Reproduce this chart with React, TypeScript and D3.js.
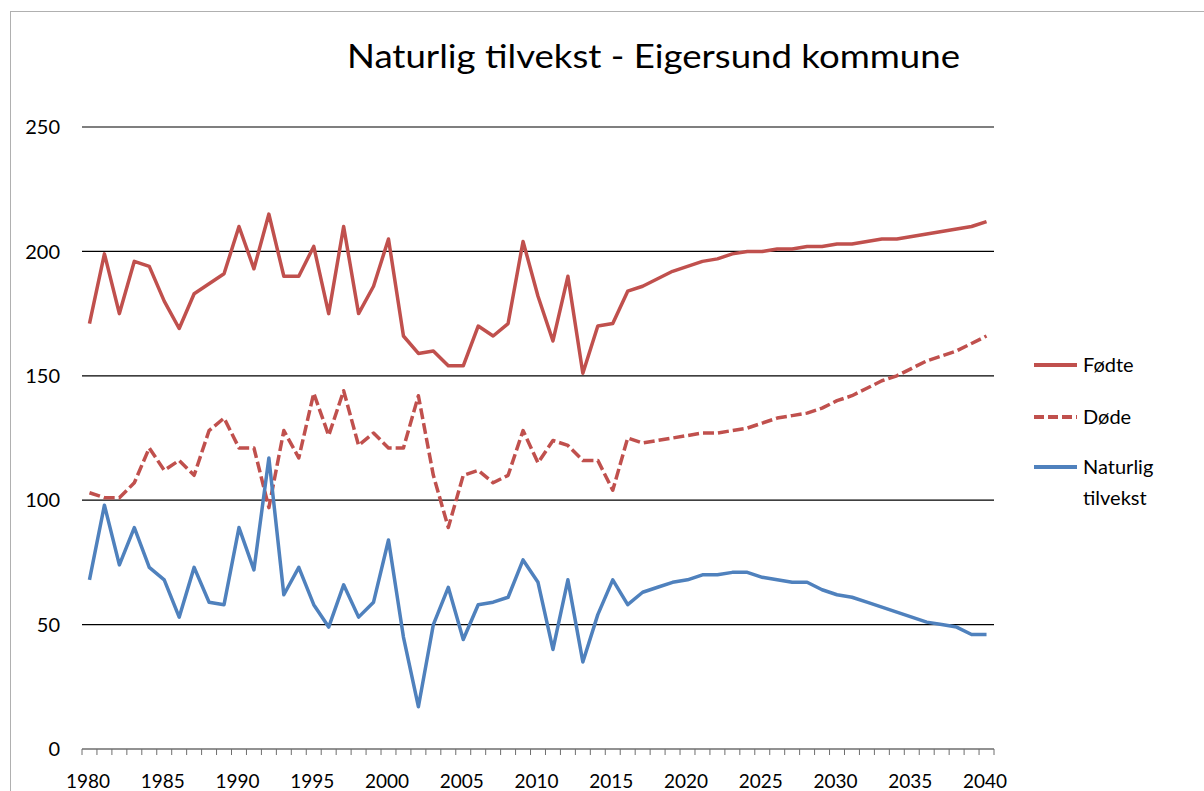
import * as d3 from "d3";

const years = d3.range(1980, 2041);

const fodte = [
  171, 199, 175, 196, 194, 180, 169, 183, 187, 191,
  210, 193, 215, 190, 190, 202, 175, 210, 175, 186,
  205, 166, 159, 160, 154, 154, 170, 166, 171, 204,
  182, 164, 190, 151, 170, 171, 184, 186, 189, 192,
  194, 196, 197, 199, 200, 200, 201, 201, 202, 202,
  203, 203, 204, 205, 205, 206, 207, 208, 209, 210, 212,
];

const dode = [
  103, 101, 101, 107, 121, 112, 116, 110, 128, 133,
  121, 121, 97, 128, 117, 143, 126, 144, 122, 127,
  121, 121, 142, 110, 89, 110, 112, 107, 110, 128,
  115, 124, 122, 116, 116, 104, 125, 123, 124, 125,
  126, 127, 127, 128, 129, 131, 133, 134, 135, 137,
  140, 142, 145, 148, 150, 153, 156, 158, 160, 163, 166,
];

const tilvekst = [
  68, 98, 74, 89, 73, 68, 53, 73, 59, 58,
  89, 72, 117, 62, 73, 58, 49, 66, 53, 59,
  84, 45, 17, 50, 65, 44, 58, 59, 61, 76,
  67, 40, 68, 35, 54, 68, 58, 63, 65, 67,
  68, 70, 70, 71, 71, 69, 68, 67, 67, 64,
  62, 61, 59, 57, 55, 53, 51, 50, 49, 46, 46,
];

const yTicks = [0, 50, 100, 150, 200, 250];
const xLabels = [1980, 1985, 1990, 1995, 2000, 2005, 2010, 2015, 2020, 2025, 2030, 2035, 2040];

const series = [
  { name: ["Fødte"], values: fodte, color: "#C0504D", dash: "" },
  { name: ["Døde"], values: dode, color: "#C0504D", dash: "11 4" },
  { name: ["Naturlig", "tilvekst"], values: tilvekst, color: "#4F81BD", dash: "" },
];

const font = "Lato, 'Open Sans', sans-serif";

export default function App() {
  const width = 1204;
  const height = 791;
  const left = 82;
  const right = 994;
  const top = 127;
  const bottom = 749;

  const x = d3
    .scaleBand<number>()
    .domain(years)
    .range([left, right]);
  const y = d3.scaleLinear().domain([0, 250]).range([bottom, top]);

  const line = d3
    .line<number>()
    .x((_, i) => (x(years[i]) ?? 0) + x.bandwidth() / 2)
    .y((d) => y(d));

  const tickXs = years.map((yr) => x(yr) ?? 0).concat([right]);

  const legendRows = [365, 417, 467];

  return (
    <svg
      width={width}
      height={height}
      style={{ position: "absolute", left: 0, top: 0, background: "#fff" }}
    >
      <rect x={10.5} y={11.5} width={1400} height={1000} fill="#fff" stroke="#b0b0b0" />
      <text
        x={653.5}
        y={68}
        textAnchor="middle"
        fontFamily={font}
        fontSize={32}
        textLength={613}
        lengthAdjust="spacingAndGlyphs"
      >
        Naturlig tilvekst - Eigersund kommune
      </text>

      {yTicks.map((t) => (
        <g key={t}>
          {t > 0 && (
            <line x1={left} x2={right} y1={y(t)} y2={y(t)} stroke="#000" strokeWidth={1.2} />
          )}
          <text
            x={60}
            y={y(t)}
            dy="0.36em"
            textAnchor="end"
            fontFamily={font}
            fontSize={20}
          >
            {t}
          </text>
        </g>
      ))}

      <line x1={left} x2={right} y1={bottom} y2={bottom} stroke="#6e6e6e" strokeWidth={1.5} />
      {tickXs.map((tx, i) => (
        <line key={i} x1={tx} x2={tx} y1={bottom} y2={bottom + 6} stroke="#6e6e6e" strokeWidth={1} />
      ))}
      {xLabels.map((yr) => (
        <text
          key={yr}
          x={(x(yr) ?? 0) + x.bandwidth() / 2 - 1.5}
          y={788}
          textAnchor="middle"
          fontFamily={font}
          fontSize={19}
        >
          {yr}
        </text>
      ))}

      {series.map((s) => (
        <path
          key={s.name.join(" ")}
          d={line(s.values) ?? ""}
          fill="none"
          stroke={s.color}
          strokeWidth={3.5}
          strokeDasharray={s.dash || undefined}
          strokeLinejoin="round"
        />
      ))}

      {series.map((s, i) => (
        <g key={"lg" + i} transform={`translate(0, ${legendRows[i]})`}>
          <line
            x1={1034}
            x2={1077}
            y1={0}
            y2={0}
            stroke={s.color}
            strokeWidth={4}
            strokeDasharray={s.dash ? "10 4" : undefined}
          />
          {s.name.map((n, j) => (
            <text
              key={n}
              x={1083}
              y={j * 31}
              dy="0.36em"
              fontFamily={font}
              fontSize={20}
            >
              {n}
            </text>
          ))}
        </g>
      ))}
    </svg>
  );
}
